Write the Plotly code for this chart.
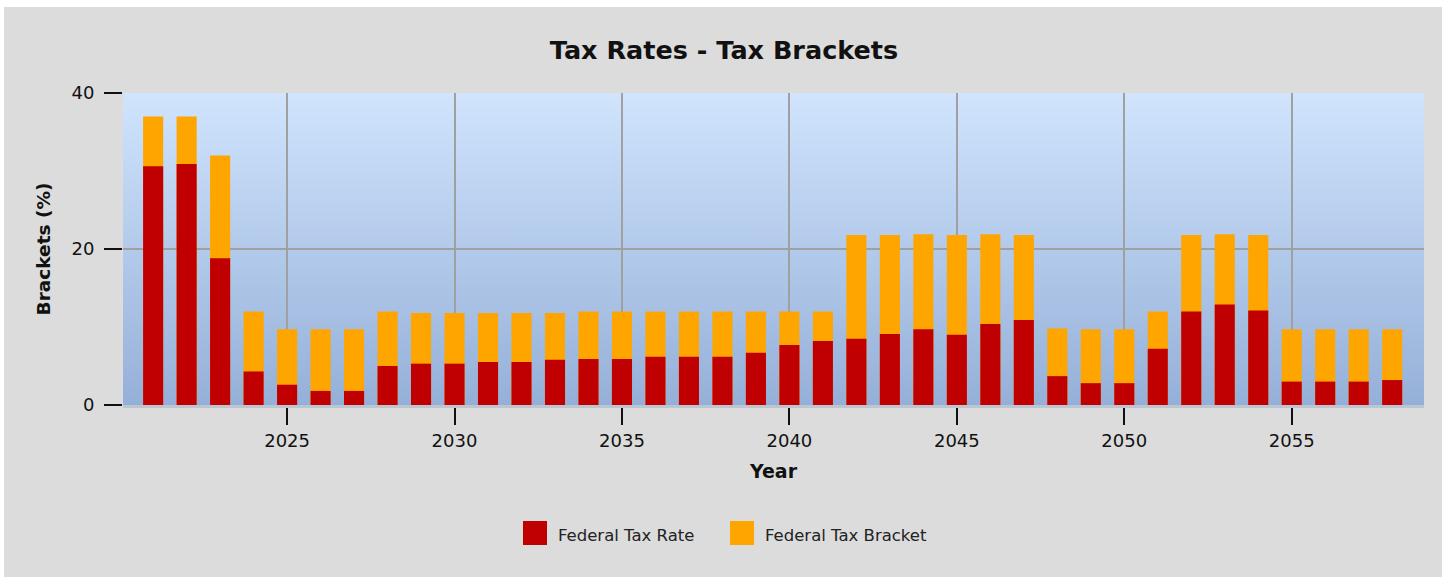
import base64
import plotly.graph_objects as go

years = list(range(2021, 2059))
bracket = [37, 37, 32, 12, 9.7, 9.7, 9.7, 12, 11.8, 11.8,
           11.8, 11.8, 11.8, 12, 12, 12, 12, 12, 12, 12,
           12, 21.8, 21.8, 21.9, 21.8, 21.9, 21.8, 9.8, 9.7, 9.7,
           12, 21.8, 21.9, 21.8, 9.7, 9.7, 9.7, 9.7]
rate = [30.6, 30.9, 18.8, 4.3, 2.6, 1.8, 1.8, 5.0, 5.3, 5.3,
        5.5, 5.5, 5.8, 5.9, 5.9, 6.2, 6.2, 6.2, 6.7, 7.7,
        8.2, 8.5, 9.1, 9.7, 9.0, 10.4, 10.9, 3.7, 2.8, 2.8,
        7.2, 12.0, 12.9, 12.1, 3.0, 3.0, 3.0, 3.2]
series_names = ["Federal Tax Rate", "Federal Tax Bracket"]
series_colors = ["#C00000", "#FFA500"]

W, H = 1448, 577
L, R, T, B = 123, 24, 93, 172
PW, PH = W - L - R, H - T - B


def px(x):
    return (x - L) / PW


def py(y):
    return (H - B - y) / PH


FONT = "DejaVu Sans"

fig = go.Figure()
fig.add_trace(go.Bar(x=years, y=bracket, name=series_names[1], marker_color=series_colors[1],
                     marker_line_width=0, width=0.6, showlegend=False))
fig.add_trace(go.Bar(x=years, y=rate, name=series_names[0], marker_color=series_colors[0],
                     marker_line_width=0, width=0.6, showlegend=False))

svg = ('<svg xmlns="http://www.w3.org/2000/svg" width="100" height="100" preserveAspectRatio="none">'
       '<defs><linearGradient id="g" x1="0" y1="0" x2="0" y2="1">'
       '<stop offset="0" stop-color="#D0E4FD"/><stop offset="1" stop-color="#95B0D8"/>'
       '</linearGradient></defs><rect width="100" height="100" fill="url(#g)"/></svg>')
uri = "data:image/svg+xml;base64," + base64.b64encode(svg.encode()).decode()

shapes = []
# white outer border strips
for x0, x1, y0, y1 in [(0, 4, 0, H), (0, W, 0, 7), (1442, W, 0, H)]:
    shapes.append(dict(type="rect", xref="paper", yref="paper", x0=px(x0), x1=px(x1),
                       y0=py(y1), y1=py(y0), fillcolor="white", line_width=0, layer="below"))
# manual legend swatches
annotations = []
legend_pos = [(523, 556), (730, 763)]
for (sx, tx), name, col in zip(legend_pos, series_names, series_colors):
    shapes.append(dict(type="rect", xref="paper", yref="paper", x0=px(sx), x1=px(sx + 24),
                       y0=py(545), y1=py(521), fillcolor=col, line_width=0))
    annotations.append(dict(text=name, xref="paper", yref="paper", x=px(tx), y=py(535),
                            xanchor="left", yanchor="middle", showarrow=False,
                            font=dict(family=FONT, size=16.5, color="#222222")))

fig.update_layout(
    width=W, height=H,
    margin=dict(l=L, r=R, t=T, b=B, autoexpand=False),
    paper_bgcolor="#DCDCDC",
    plot_bgcolor="rgba(0,0,0,0)",
    barmode="overlay",
    showlegend=False,
    title=dict(text="Tax Rates - Tax Brackets", x=0.5, xref="container", xanchor="center",
               y=1 - 50 / H, yref="container", yanchor="middle",
               font=dict(family=FONT, size=25.5, color="#111111", weight="bold")),
    font=dict(family=FONT, color="#111111"),
    images=[dict(source=uri, xref="paper", yref="paper", x=0, y=1, sizex=1, sizey=1,
                 sizing="stretch", xanchor="left", yanchor="top", layer="below")],
    shapes=shapes,
    annotations=annotations,
    xaxis=dict(range=[2020.1, 2058.95], tick0=2025, dtick=5, showgrid=True,
               gridcolor="#A0A0A0", gridwidth=2, ticks="outside", ticklen=17,
               tickwidth=2, tickcolor="#111111", tickfont=dict(size=18, family=FONT),
               showline=True, linecolor="#BCC6D3", linewidth=3, zeroline=False,
               title=dict(text="Year", standoff=16,
                          font=dict(size=19, family=FONT, weight="bold"))),
    yaxis=dict(range=[0, 40], tickvals=[0, 20, 40], showgrid=True, gridcolor="#A0A0A0",
               gridwidth=2, ticks="outside", ticklen=18, tickwidth=2, tickcolor="#111111",
               tickfont=dict(size=18, family=FONT), zeroline=False, showline=False,
               ticklabelstandoff=6,
               title=dict(text="Brackets (%)", standoff=16,
                          font=dict(size=18.5, family=FONT, weight="bold"))),
)

fig.write_html("out.html", config={"displayModeBar": False},
               post_script="document.body.style.margin='0px';")
